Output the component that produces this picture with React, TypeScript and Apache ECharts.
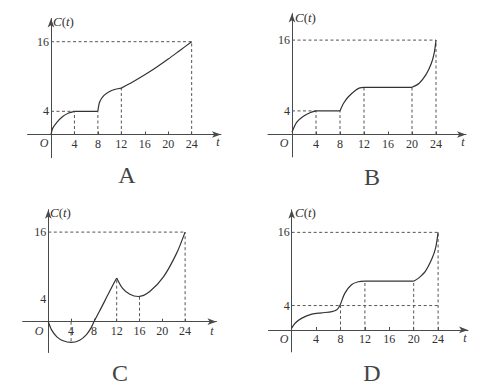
import React, { useEffect, useRef } from "react";
import * as echarts from "echarts";

// ---- data ----
const xTickValues = [4, 8, 12, 16, 20, 24];
const yTickValuesA = [4, 16];
const yTickValuesB = [4, 16];
const yTickValuesC = [4, 16];
const yTickValuesD = [4, 16];

// Panel A curve pieces
const curveA1 = [[0, 0], [0.3, 1.1], [1, 2.1], [2, 3.1], [3, 3.7], [4, 4]];
const curveA2 = [[4, 4], [8, 4]];
const curveA3 = [[8, 4], [8.3, 5.6], [9, 6.7], [10, 7.4], [11, 7.8], [12, 8]];
const curveA4 = [[12, 8], [14, 9.1], [16, 10.3], [18, 11.6], [20, 13], [22, 14.5], [24, 16]];
const guidesA = [
  [[0, 4], [4, 4]],
  [[0, 16], [24, 16]],
  [[4, 0], [4, 4]],
  [[8, 0], [8, 4]],
  [[12, 0], [12, 8]],
  [[24, 0], [24, 16]],
];

// Panel B
const curveB1 = [[0, 0.4], [0.8, 2.1], [1.9, 3.1], [3, 3.7], [4, 4]];
const curveB2 = [[4, 4], [8, 4]];
const curveB3 = [[8, 4], [8.6, 5.3], [9.4, 6.4], [10.6, 7.5], [11.3, 7.9], [12, 8]];
const curveB4 = [[12, 8], [20, 8]];
const curveB5 = [[20, 8], [21.2, 8.7], [22.3, 10.1], [23.2, 12], [23.7, 13.8], [24, 16]];
const guidesB = [
  [[0, 4], [4, 4]],
  [[0, 16], [24, 16]],
  [[4, 0], [4, 4]],
  [[8, 0], [8, 4]],
  [[12, 0], [12, 8]],
  [[20, 0], [20, 8]],
  [[24, 0], [24, 16]],
];

// Panel C
const curveC1 = [[0, 0], [0.6, -1.5], [1.5, -2.7], [2.6, -3.4], [4, -3.7], [5.5, -3.3], [6.7, -2.3], [7.5, -1.1], [8, 0]];
const curveC2 = [[8, 0], [9, 1.9], [10, 3.9], [11, 5.9], [12, 7.8]];
const curveC3 = [[12, 7.8], [13, 6.0], [14.3, 4.9], [15.8, 4.5], [17.8, 5.4], [20.2, 8.0], [22.5, 12.2], [24, 16]];
const guidesC = [
  [[0, 16], [24, 16]],
  [[4, 0], [4, -3.7]],
  [[12, 0], [12, 7.8]],
  [[16, 0], [16, 4.5]],
  [[24, 0], [24, 16]],
];

// Panel D
const curveD1 = [[0, 0.3], [0.55, 1.1], [1.6, 1.9], [3.3, 2.6], [4.9, 2.8], [6.6, 3.0], [7.4, 3.3], [7.9, 4.0], [8.7, 6.0], [9.8, 7.4], [10.9, 7.9], [12, 8]];
const curveD2 = [[12, 8], [20, 8]];
const curveD3 = [[20, 8], [20.8, 8.5], [21.9, 9.6], [23, 11.7], [23.6, 13.5], [24, 16]];
const guidesD = [
  [[0, 4], [24, 4]],
  [[0, 16], [24, 16]],
  [[8, 0], [8, 4]],
  [[12, 0], [12, 8]],
  [[20, 0], [20, 8]],
  [[24, 0], [24, 16]],
];

const panelLetters = ["A", "B", "C", "D"];

// ---- layout / style ----
const SERIF = "'Liberation Serif', 'DejaVu Serif', serif";
const AXIS_COLOR = "#4a4a4a";
const LINE_COLOR = "#333";
const TEXT_COLOR = "#333";

const panels = [
  { grid: { left: 27.56, top: 18.5, width: 193.4, height: 139.2 }, x: [-4, 29], y: [-4, 20], yTicks: yTickValuesA,
    curves: [curveA1, curveA2, curveA3, curveA4], guides: guidesA,
    O: [44, 143], t: [218, 142], Ct: [53, 21], letter: [127, 175] },
  { grid: { left: 268, top: 13.55, width: 198, height: 143.4 }, x: [-4, 29], y: [-3.8, 20.5], yTicks: yTickValuesB,
    curves: [curveB1, curveB2, curveB3, curveB4, curveB5], guides: guidesB,
    O: [284, 143], t: [463, 142], Ct: [295, 17], letter: [372, 177] },
  { grid: { left: 22.65, top: 209.7, width: 193.8, height: 142.8 }, x: [-4.5, 29.5], y: [-5.5, 20], yTicks: yTickValuesC,
    curves: [curveC1, curveC2, curveC3], guides: guidesC,
    O: [39, 331], t: [212, 331], Ct: [50, 212], letter: [120, 373] },
  { grid: { left: 268.5, top: 209.8, width: 199.5, height: 142.1 }, x: [-3.8, 28.9], y: [-3.6, 19.7], yTicks: yTickValuesD,
    curves: [curveD1, curveD2, curveD3], guides: guidesD,
    O: [284, 339], t: [465, 338], Ct: [295, 212], letter: [372, 373] },
];

function buildOption() {
  const grid: any[] = [];
  const xAxis: any[] = [];
  const yAxis: any[] = [];
  const series: any[] = [];
  const graphic: any[] = [];

  panels.forEach((p, i) => {
    grid.push({ ...p.grid, containLabel: false });
    // distance from the zero lines to the grid edges (labels are laid out from the grid edge)
    const belowZero = (p.grid.height * (0 - p.y[0])) / (p.y[1] - p.y[0]);
    const leftOfZero = (p.grid.width * (0 - p.x[0])) / (p.x[1] - p.x[0]);
    xAxis.push({
      gridIndex: i,
      type: "value",
      min: p.x[0],
      max: p.x[1],
      axisLine: {
        onZero: true,
        symbol: ["none", "arrow"],
        symbolSize: [5, 9],
        lineStyle: { color: AXIS_COLOR, width: 1 },
      },
      axisTick: { show: true, inside: true, length: 3, customValues: xTickValues, lineStyle: { color: AXIS_COLOR } },
      axisLabel: { customValues: xTickValues, margin: 3 - belowZero, fontFamily: SERIF, fontSize: 12, color: TEXT_COLOR },
      splitLine: { show: false },
    });
    yAxis.push({
      gridIndex: i,
      type: "value",
      min: p.y[0],
      max: p.y[1],
      axisLine: {
        onZero: true,
        symbol: ["none", "arrow"],
        symbolSize: [5, 9],
        lineStyle: { color: AXIS_COLOR, width: 1 },
      },
      axisTick: { show: false },
      axisLabel: { customValues: p.yTicks, margin: 2 - leftOfZero, fontFamily: SERIF, fontSize: 12, color: TEXT_COLOR },
      splitLine: { show: false },
    });
    p.guides.forEach((g) => {
      series.push({
        type: "line",
        xAxisIndex: i,
        yAxisIndex: i,
        data: g,
        showSymbol: false,
        silent: true,
        lineStyle: { color: "#555", width: 1, type: [3, 2.5] },
        z: 2,
      });
    });
    p.curves.forEach((c) => {
      series.push({
        type: "line",
        xAxisIndex: i,
        yAxisIndex: i,
        data: c,
        showSymbol: false,
        smooth: c.length > 2 ? 0.3 : false,
        silent: true,
        lineStyle: { color: LINE_COLOR, width: 1.2 },
        z: 3,
      });
    });
    graphic.push({
      type: "text",
      x: p.O[0],
      y: p.O[1],
      style: { text: "O", font: `italic 12px ${SERIF}`, fill: TEXT_COLOR, align: "center", verticalAlign: "middle" },
    });
    graphic.push({
      type: "text",
      x: p.t[0],
      y: p.t[1],
      style: { text: "t", font: `italic 12px ${SERIF}`, fill: TEXT_COLOR, align: "center", verticalAlign: "middle" },
    });
    graphic.push({
      type: "text",
      x: p.Ct[0],
      y: p.Ct[1],
      style: {
        text: "{i|C}({i|t})",
        font: `13px ${SERIF}`,
        fill: TEXT_COLOR,
        align: "left",
        verticalAlign: "middle",
        rich: { i: { fontStyle: "italic", fontFamily: SERIF, fontSize: 13, fill: TEXT_COLOR, color: TEXT_COLOR } },
      },
    });
    graphic.push({
      type: "text",
      x: p.letter[0],
      y: p.letter[1],
      style: { text: panelLetters[i], font: `24px ${SERIF}`, fill: "#444", align: "center", verticalAlign: "middle" },
    });
  });

  return { animation: false, backgroundColor: "#fff", grid, xAxis, yAxis, series, graphic };
}

export default function App() {
  const ref = useRef<HTMLDivElement>(null);
  useEffect(() => {
    if (!ref.current) return;
    const chart = echarts.init(ref.current, null, { renderer: "svg" });
    chart.setOption(buildOption() as any);
    return () => chart.dispose();
  }, []);
  return (
    <div
      ref={ref}
      style={{ position: "absolute", left: 0, top: 0, width: 497, height: 390, background: "#fff" }}
    />
  );
}
